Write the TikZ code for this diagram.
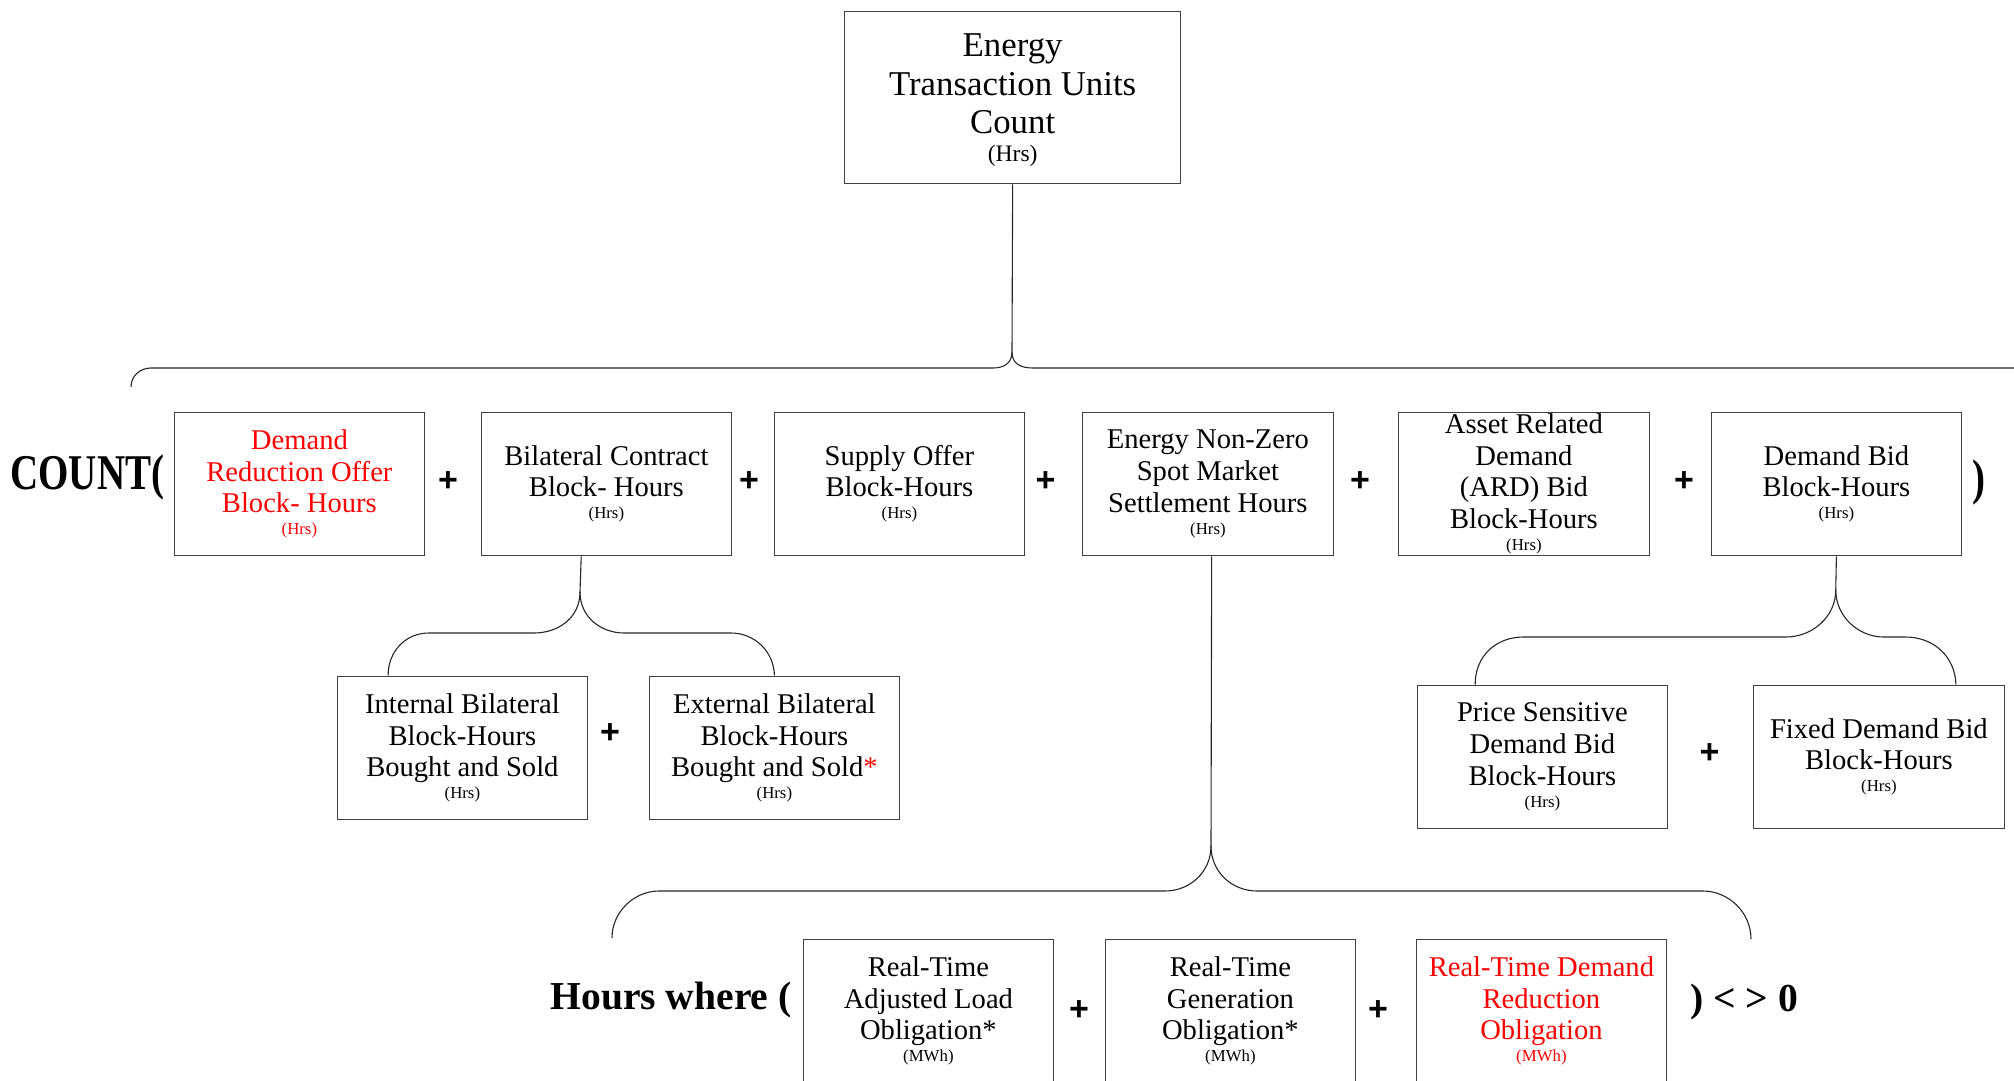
\documentclass[tikz,border=0pt]{standalone}
\usepackage{fontspec}
\setmainfont{Liberation Serif}
\newfontfamily\plusfamily{Liberation Sans}
\usetikzlibrary{calc}
\newcommand{\unitfont}{\fontsize{8.4}{9}\selectfont}
\newcommand{\topunitfont}{\fontsize{11.8}{12}\selectfont}
\begin{document}
\begin{tikzpicture}[x=0.5pt,y=-0.5pt,
  box/.style={draw=black!75, line width=0.65pt, anchor=north west, inner sep=0pt,
    minimum width=125.25pt, minimum height=71.75pt, align=center,
    font=\fontsize{14.3}{15.8}\selectfont},
  conn/.style={draw=black!85, line width=0.55pt},
  plusop/.style={inner sep=0pt, font=\plusfamily\bfseries\fontsize{17}{17}\selectfont},
  opfont/.style={inner sep=0pt, font=\fontsize{19.8}{21}\selectfont\bfseries},
  bigop/.style={inner sep=0pt, font=\fontsize{25}{27}\selectfont\bfseries}]
\useasboundingbox (0,0) rectangle (2014,1081);
\clip (0,0) rectangle (2014,1081);

% top box
\node[box, minimum width=168pt, minimum height=86pt, font=\fontsize{17.4}{19.3}\selectfont] (top) at (844,11)
  {\rule{0pt}{14pt}Energy\\Transaction Units\\Count\\[-5.2pt]{\topunitfont (Hrs)}};

% row 1
\node[box, text=red] (b1) at (173.5,411.5) {Demand\\Reduction Offer\\Block- Hours\\[-4.8pt]{\unitfont (Hrs)}};
\node[box] (b2) at (480.5,411.5) {Bilateral Contract\\Block- Hours\\[-4.8pt]{\unitfont (Hrs)}};
\node[box] (b3) at (773.5,411.5) {Supply Offer\\Block-Hours\\[-4.8pt]{\unitfont (Hrs)}};
\node[box] (b4) at (1082,411.5) {Energy Non-Zero\\Spot Market\\Settlement Hours\\[-4.8pt]{\unitfont (Hrs)}};
\node[box] (b5) at (1398,411.5) {Asset Related\\Demand\\(ARD) Bid\\Block-Hours\\[-4.8pt]{\unitfont (Hrs)}};
\node[box] (b6) at (1710.5,411.5) {Demand Bid\\Block-Hours\\[-4.8pt]{\unitfont (Hrs)}};

% row 2
\node[box] (i1) at (336.5,675.5) {Internal Bilateral\\Block-Hours\\Bought and Sold\\[-4.8pt]{\unitfont (Hrs)}};
\node[box] (e1) at (648.5,675.5) {External Bilateral\\Block-Hours\\Bought and Sold\textcolor{red}{*}\\[-4.8pt]{\unitfont (Hrs)}};
\node[box] (p1) at (1416.5,684.5) {Price Sensitive\\Demand Bid\\Block-Hours\\[-4.8pt]{\unitfont (Hrs)}};
\node[box] (f1) at (1753,684.5) {Fixed Demand Bid\\Block-Hours\\[-4.8pt]{\unitfont (Hrs)}};

% row 3
\node[box] (r1) at (802.5,938.5) {Real-Time\\Adjusted Load\\Obligation*\\[-4.8pt]{\unitfont (MWh)}};
\node[box] (r2) at (1104.5,938.5) {Real-Time\\Generation\\Obligation*\\[-4.8pt]{\unitfont (MWh)}};
\node[box, text=red] (r3) at (1415.5,938.5) {Real-Time Demand\\Reduction\\Obligation\\[-4.8pt]{\unitfont (MWh)}};

% operators and labels
\node[bigop, anchor=base west] (count) at (10,489) {\scalebox{0.78}[1]{COUNT(}};
\node[bigop] (rpar) at (1979,482) {\scalebox{0.78}[1]{)}};
\node[plusop] (p12) at (448,482) {+};
\node[plusop] (p23) at (749,482) {+};
\node[plusop] (p34) at (1045.5,482) {+};
\node[plusop] (p45) at (1360,482) {+};
\node[plusop] (p56) at (1684,482) {+};
\node[plusop] (pie) at (610,733.5) {+};
\node[plusop] (ppf) at (1709.5,754) {+};
\node[plusop] (pr12) at (1079,1011) {+};
\node[plusop] (pr23) at (1378,1011) {+};
\node[opfont, anchor=base west] (hw) at (550,1009) {Hours where (};
\node[opfont, anchor=base west] (ne) at (1690,1011) {) < > 0};

% top brace
\coordinate (tc) at (1012,352);
\coordinate (tl) at (131,387);
\coordinate (tr) at (2040,368);
\draw[conn] (top.south) -- (tc);
\draw[conn] (tc) .. controls (1012,364) and (1003,368) .. (993,368) -- (151,368)
  .. controls (140,368) and (131,376) .. (tl);
\draw[conn] (tc) .. controls (1012,364) and (1021,368) .. (1033,368) -- (tr);

% bilateral brace
\coordinate (c2) at (580,592);
\draw[conn] ($(b2.south west)!0.4!(b2.south east)$) -- (c2);
\draw[conn] (c2) .. controls (580,618) and (558,633) .. (534,633) -- (429,633)
  .. controls (405,633) and (388,652) .. ($(i1.north west)!0.205!(i1.north east)$);
\draw[conn] (c2) .. controls (580,618) and (602,633) .. (624,633) -- (731,633)
  .. controls (755,633) and (774,652) .. (e1.north);

% demand bid brace
\coordinate (c6) at (1835.75,590);
\draw[conn] (b6.south) -- (c6);
\draw[conn] (c6) .. controls (1835.75,617) and (1812,637) .. (1786,637) -- (1523.5,637)
  .. controls (1496,637) and (1475,656) .. ($(p1.north west)!0.233!(p1.north east)$);
\draw[conn] (c6) .. controls (1835.75,617) and (1859,637) .. (1883.5,637) -- (1905.5,637)
  .. controls (1933,637) and (1955,656) .. ($(f1.north west)!0.806!(f1.north east)$);

% spot market brace
\coordinate (c4) at (1211,846);
\coordinate (hl) at (612,938);
\coordinate (hr) at (1751,939);
\draw[conn] ($(b4.south west)!0.515!(b4.south east)$) -- (c4);
\draw[conn] (c4) .. controls (1211,872) and (1190,891) .. (1165,891) -- (659,891)
  .. controls (634,891) and (612,912) .. (hl);
\draw[conn] (c4) .. controls (1211,872) and (1232,891) .. (1257,891) -- (1703,891)
  .. controls (1728,891) and (1751,912) .. (hr);
\end{tikzpicture}
\end{document}
